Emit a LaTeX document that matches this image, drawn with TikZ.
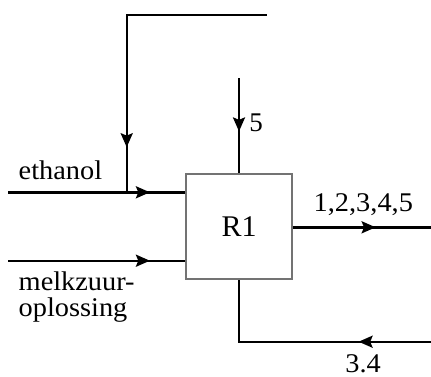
\documentclass[tikz,border=0pt]{standalone}
\usepackage{fontspec}
\setmainfont{Liberation Serif}
\newfontfamily\widefont[FakeStretch=1.05]{Liberation Serif}
\usetikzlibrary{arrows.meta,decorations.markings}

\tikzset{
    flow/.style={line width=1.2pt},
    arrowat/.style={flow, postaction={decorate},
        decoration={markings, mark=at position #1 with {\arrow{Stealth[length=7pt,width=6pt,inset=1.2pt]}}}},
    lbl/.style={font=\fontsize{13.5}{13}\selectfont\widefont, inner sep=0pt},
}

\begin{document}
\begin{tikzpicture}[x=0.5pt, y=-0.5pt]
\useasboundingbox (0,0) rectangle (431,376);

% Reactor
\node[draw=black!55, line width=0.6pt, minimum width=53pt, minimum height=52.5pt,
      inner sep=0pt, font=\fontsize{15}{18}\selectfont] (r1) at (239,226.5) {R1};

% Stream end points
\coordinate (eth) at (8,192.3);
\coordinate (mz) at (8,260.7);
\coordinate (rec) at (266.7,15);
\coordinate (rcorner) at (126.7,15);
\coordinate (top5) at (239,78);
\coordinate (out) at (431,227.3);
\coordinate (ret) at (431,341.7);

% Feeds
\draw[arrowat=0.8] (eth) -- (eth -| r1.west);
\draw[arrowat=0.858] (rec) -- (rcorner) -- (rcorner |- eth);
\draw[arrowat=0.8] (mz) -- (mz -| r1.west);
\draw[arrowat=0.56] (top5) -- (r1.north);

% Products
\draw[arrowat=0.6] (out -| r1.east) -- (out);
\draw[arrowat=0.285] (ret) -- (ret -| r1.south) -- (r1.south);

% Labels
\node[lbl, anchor=base west] (ethlbl) at (18.3,179.3) {ethanol};
\node[lbl, anchor=base west, align=left] (mzlbl) at (18.3,316.7) {melkzuur-\\oplossing};
\node[inner sep=0pt, font=\fontsize{13.5}{13}\selectfont, anchor=base west] (fivelbl) at (249,131.7) {5};
\node[lbl, anchor=base west] (outlbl) at (313.3,211.7) {1,2,3,4,5};
\node[lbl, anchor=base west] (retlbl) at (345,372) {3.4};
\end{tikzpicture}
\end{document}
